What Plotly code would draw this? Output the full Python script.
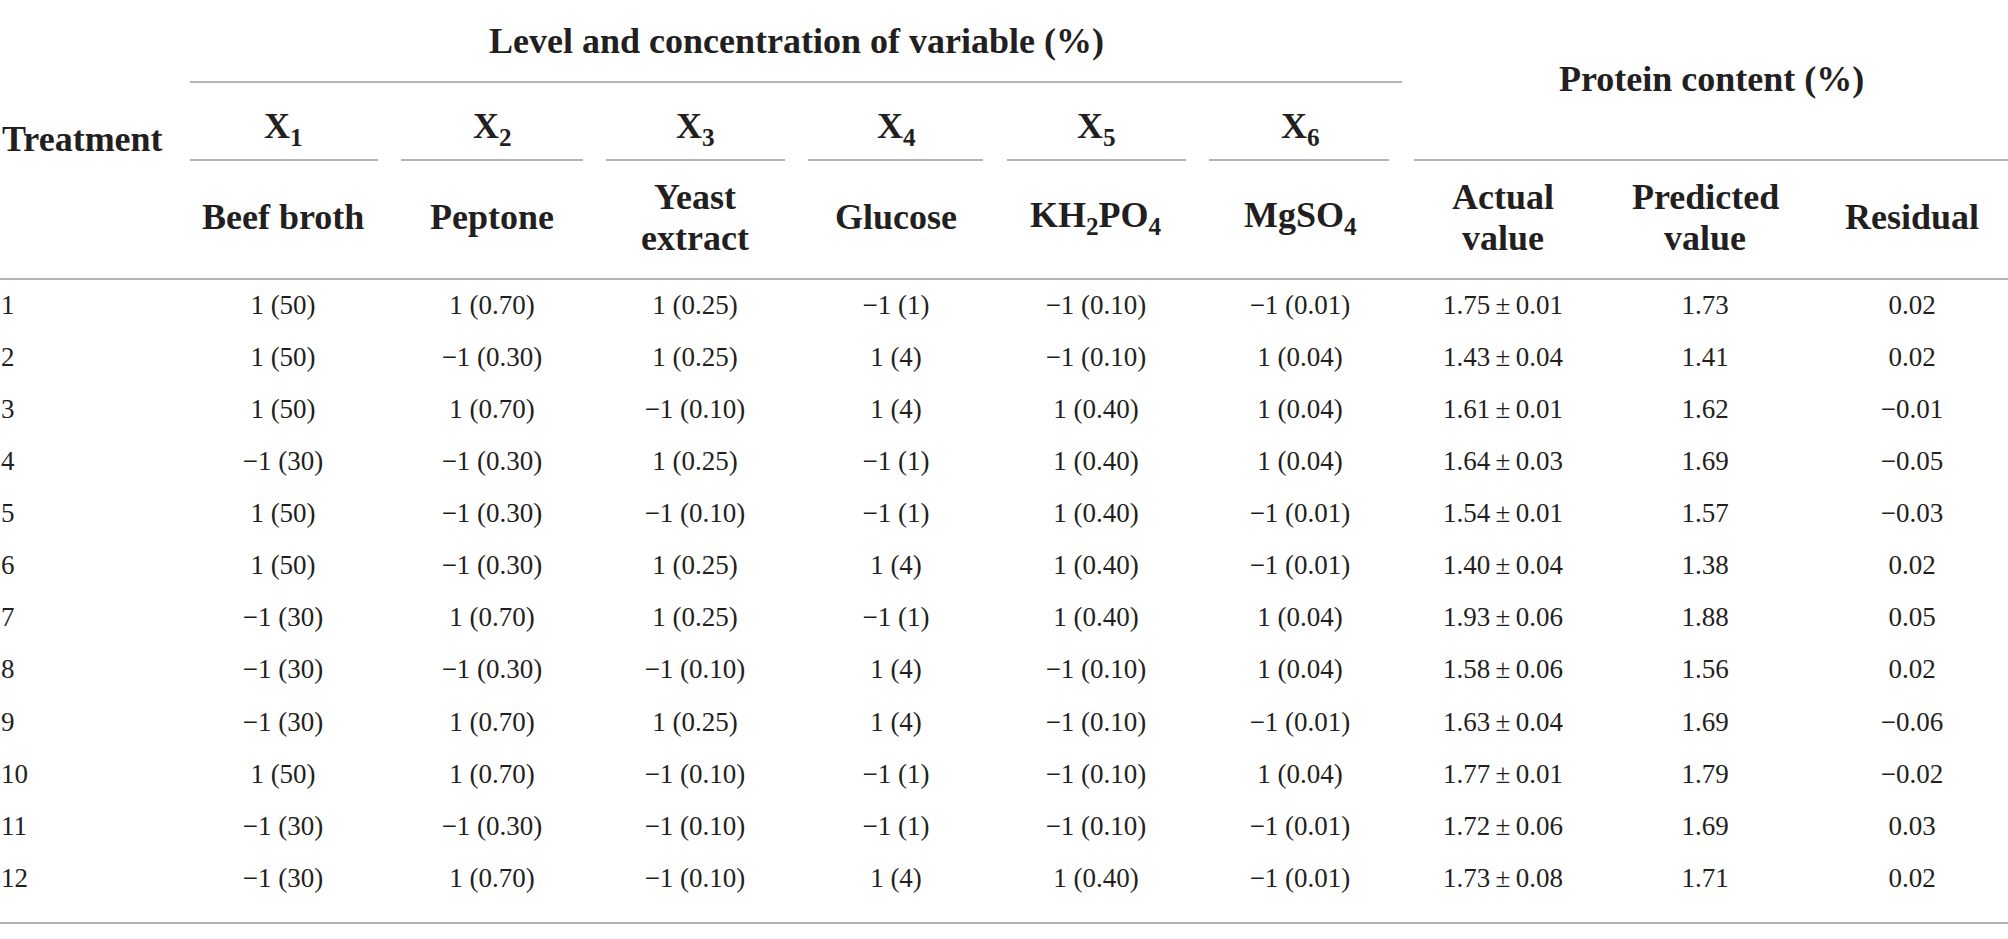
import plotly.graph_objects as go

# Treatment numbers and coded levels of the six variables (Plackett-Burman design)
treatment = ["1", "2", "3", "4", "5", "6", "7", "8", "9", "10", "11", "12"]
x1_level = [1, 1, 1, -1, 1, 1, -1, -1, -1, 1, -1, -1]
x2_level = [1, -1, 1, -1, -1, -1, 1, -1, 1, 1, -1, 1]
x3_level = [1, 1, -1, 1, -1, 1, 1, -1, 1, -1, -1, -1]
x4_level = [-1, 1, 1, -1, -1, 1, -1, 1, 1, -1, -1, 1]
x5_level = [-1, -1, 1, 1, 1, 1, 1, -1, -1, -1, -1, 1]
x6_level = [-1, 1, 1, 1, -1, -1, 1, 1, -1, 1, -1, -1]

# Concentration (%) for level +1 / -1
x1_conc = {1: "50", -1: "30"}
x2_conc = {1: "0.70", -1: "0.30"}
x3_conc = {1: "0.25", -1: "0.10"}
x4_conc = {1: "4", -1: "1"}
x5_conc = {1: "0.40", -1: "0.10"}
x6_conc = {1: "0.04", -1: "0.01"}

# Protein content (%)
actual_mean = [1.75, 1.43, 1.61, 1.64, 1.54, 1.40, 1.93, 1.58, 1.63, 1.77, 1.72, 1.73]
actual_sd = [0.01, 0.04, 0.01, 0.03, 0.01, 0.04, 0.06, 0.06, 0.04, 0.01, 0.06, 0.08]
predicted = [1.73, 1.41, 1.62, 1.69, 1.57, 1.38, 1.88, 1.56, 1.69, 1.79, 1.69, 1.71]
residual = [0.02, 0.02, -0.01, -0.05, -0.03, 0.02, 0.05, 0.02, -0.06, -0.02, 0.03, 0.02]

var_names = ["X<sub>1</sub>", "X<sub>2</sub>", "X<sub>3</sub>", "X<sub>4</sub>", "X<sub>5</sub>", "X<sub>6</sub>"]
var_labels = ["Beef broth", "Peptone", "Yeast<br>extract", "Glucose",
              "KH<sub>2</sub>PO<sub>4</sub>", "MgSO<sub>4</sub>",
              "Actual<br>value", "Predicted<br>value", "Residual"]

MINUS = "\u2212"


def fmt_num(v):
    s = f"{abs(v):.2f}"
    return (MINUS + s) if v < 0 else s


def fmt_level(levels, conc):
    return [(MINUS + "1" if lv < 0 else "1") + f" ({conc[lv]})" for lv in levels]


columns = [
    fmt_level(x1_level, x1_conc),
    fmt_level(x2_level, x2_conc),
    fmt_level(x3_level, x3_conc),
    fmt_level(x4_level, x4_conc),
    fmt_level(x5_level, x5_conc),
    fmt_level(x6_level, x6_conc),
    [f"{m:.2f}\u2009±\u2009{s:.2f}" for m, s in zip(actual_mean, actual_sd)],
    [f"{p:.2f}" for p in predicted],
    [fmt_num(r) for r in residual],
]

# layout (pixel-like axis units)
W, H = 2008, 939
col_x = [283, 492, 695, 896, 1096, 1300, 1503, 1705, 1912]
row_top, row_step = 307, 52.1
row_y = [row_top + i * row_step for i in range(len(treatment))]

FONT = "Liberation Serif"
INK = "#231f20"
RULE = "#b3b3b3"

fig = go.Figure()

fig.add_trace(go.Scatter(
    x=[1] * len(treatment), y=row_y, text=treatment, mode="text",
    textposition="middle right", hoverinfo="skip",
    textfont=dict(family=FONT, size=27, color=INK)))

for cx, vals in zip(col_x, columns):
    fig.add_trace(go.Scatter(
        x=[cx] * len(vals), y=row_y, text=vals, mode="text",
        textposition="middle center", hoverinfo="skip",
        textfont=dict(family=FONT, size=27, color=INK)))

hfont = dict(family=FONT, size=36, color=INK)
annotations = []


def head(text, x, y, xanchor="center"):
    annotations.append(dict(text=f"<b>{text}</b>", x=x, y=y, xref="x", yref="y",
                            xanchor=xanchor, yanchor="middle", showarrow=False,
                            font=hfont, align="center"))


head("Treatment", 0, 139, xanchor="left")
head("Level and concentration of variable (%)", 796, 41)
head("Protein content (%)", 1711, 79)
for cx, nm in zip(col_x[:6], var_names):
    head(nm, cx, 128)
# sub-headers; two-line ones set with tighter leading than <br> gives
for cx, lb in zip(col_x, var_labels):
    parts = lb.split("<br>")
    if len(parts) == 1:
        head(lb, cx, 217)
    else:
        head(parts[0], cx, 197)
        head(parts[1], cx, 238)

# rules
segments = [
    (190, 1402, 82),
    (190, 378, 160), (401, 583, 160), (606, 785, 160), (808, 983, 160),
    (1007, 1186, 160), (1209, 1389, 160), (1414, W, 160),
    (0, W, 279),
    (0, W, 923),
]
shapes = [dict(type="line", xref="x", yref="y", x0=a, x1=b, y0=y, y1=y,
               line=dict(color=RULE, width=2)) for a, b, y in segments]

fig.update_layout(
    width=W, height=H,
    margin=dict(l=0, r=0, t=0, b=0),
    paper_bgcolor="white", plot_bgcolor="white",
    showlegend=False,
    xaxis=dict(range=[0, W], visible=False, fixedrange=True),
    yaxis=dict(range=[H, 0], visible=False, fixedrange=True),
    annotations=annotations,
    shapes=shapes,
)

fig.write_html("out.html", config={"displayModeBar": False},
               post_script="document.body.style.margin='0';")
